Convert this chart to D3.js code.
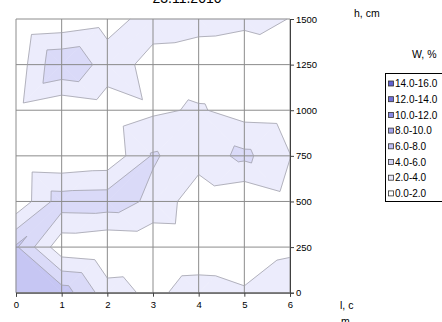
<!DOCTYPE html>
<html><head><meta charset="utf-8">
<script src="https://cdn.jsdelivr.net/npm/d3@7"></script>
<style>
body{margin:0;background:#fff}
svg{display:block}
text{font-family:"Liberation Sans",Arial,sans-serif;fill:#000}
</style>
</head><body>
<svg id="chart" width="442" height="322"></svg>
<script>
// ---------------- data ----------------
const chartTitle = "23.11.2010";
const lValues = [0, 1, 2, 3, 4, 5, 6];                 // l, cm (categories)
const hValues = [0, 250, 500, 750, 1000, 1250, 1500];  // h, cm (series)
// W, % at each l, one array per height
const wAtH0    = [7.5, 7.08, 2.91, 1.49, 3.0, 2.3, 2.41];
const wAtH250  = [6.28, 0.6, 0.07, 0.3, 0.44, 0.3, 1.88];
const wAtH500  = [0.4, 5.1, 5.2, 3.5, 0.7, 0.04, 1.3];
const wAtH750  = [0.3, 0.1, 0.5, 4.2, 2.9, 4.5, 2.05];
const wAtH1000 = [1.26, 0.07, 0.82, 1.67, 2.22, 1.12, 0.98];
const wAtH1250 = [0.7, 5.9, 3.1, 1.26, 0.75, 0.65, 1.13];
const wAtH1500 = [0.0, 0.33, 1.1, 2.9, 2.8, 2.45, 1.97];
const bandEdges = [0, 2, 4, 6, 8, 10, 12, 14, 16];
const bandLabels = ["0.0-2.0", "2.0-4.0", "4.0-6.0", "6.0-8.0", "8.0-10.0", "10.0-12.0", "12.0-14.0", "14.0-16.0"];
const xTickValues = [0, 1, 2, 3, 4, 5, 6];
const yTickValues = [0, 250, 500, 750, 1000, 1250, 1500];

// ---------------- styles ----------------
const bandColors = ["#ffffff", "#ececfc", "#dadaf8", "#c6c6f3", "#b0b0ee", "#9898e8", "#8080e0", "#6a6ad6"];
const legendColors = ["#ffffff", "#e8e8fa", "#d4d4f6", "#bcbcf2", "#a2a2ec", "#8888e4", "#7070da", "#6060d0"];

const wRows = [wAtH0, wAtH250, wAtH500, wAtH750, wAtH1000, wAtH1250, wAtH1500];

const svg = d3.select("#chart");
const x = d3.scaleLinear().domain([0, 6]).range([16, 290]);
const y = d3.scaleLinear().domain([0, 1500]).range([292.7, 19]);

// triangulate each grid cell (diagonal through the higher pair)
const triangles = [];
for (let j = 0; j < hValues.length - 1; j++) {
  for (let i = 0; i < lValues.length - 1; i++) {
    const BL = {l: lValues[i],   h: hValues[j],   v: wRows[j][i]};
    const BR = {l: lValues[i+1], h: hValues[j],   v: wRows[j][i+1]};
    const TL = {l: lValues[i],   h: hValues[j+1], v: wRows[j+1][i]};
    const TR = {l: lValues[i+1], h: hValues[j+1], v: wRows[j+1][i+1]};
    if (BL.v + TR.v >= BR.v + TL.v) {
      triangles.push([BL, BR, TR], [BL, TR, TL]);
    } else {
      triangles.push([BL, BR, TL], [BR, TR, TL]);
    }
  }
}
function lerp(a, b, t) {
  return {l: a.l + (b.l - a.l) * t, h: a.h + (b.h - a.h) * t, v: a.v + (b.v - a.v) * t};
}
function clip(poly, f) {
  const out = [];
  for (let k = 0; k < poly.length; k++) {
    const a = poly[k], b = poly[(k + 1) % poly.length];
    const fa = f(a), fb = f(b);
    if (fa >= 0) out.push(a);
    if ((fa >= 0) !== (fb >= 0)) out.push(lerp(a, b, fa / (fa - fb)));
  }
  return out;
}
const line = d3.line().x(p => x(p.l)).y(p => y(p.h));

// filled bands
const gBands = svg.append("g");
for (let b = 1; b < bandEdges.length - 1; b++) {
  const lo = bandEdges[b], hi = bandEdges[b + 1];
  triangles.forEach(tri => {
    let poly = clip(tri, p => p.v - lo);
    if (poly.length < 3) return;
    poly = clip(poly, p => hi - p.v);
    if (poly.length < 3) return;
    gBands.append("path")
      .attr("d", line(poly) + "Z")
      .attr("fill", bandColors[b])
      .attr("stroke", bandColors[b])
      .attr("stroke-width", 0.6);
  });
}

// gridlines
const gGrid = svg.append("g");
xTickValues.forEach(t => {
  gGrid.append("line").attr("x1", x(t)).attr("x2", x(t)).attr("y1", y(0)).attr("y2", y(1500))
    .attr("stroke", "#8c8c8c").attr("stroke-width", 1);
});
yTickValues.forEach(t => {
  gGrid.append("line").attr("x1", x(0)).attr("x2", x(6)).attr("y1", y(t)).attr("y2", y(t))
    .attr("stroke", "#8c8c8c").attr("stroke-width", 1);
});

// contour lines
const gLines = svg.append("g");
for (let b = 1; b < bandEdges.length - 1; b++) {
  const L = bandEdges[b];
  triangles.forEach(tri => {
    const pts = [];
    for (let k = 0; k < 3; k++) {
      const a = tri[k], c = tri[(k + 1) % 3];
      const fa = a.v - L, fc = c.v - L;
      if ((fa >= 0) !== (fc >= 0)) pts.push(lerp(a, c, fa / (fa - fc)));
    }
    if (pts.length === 2) {
      gLines.append("path").attr("d", line(pts))
        .attr("fill", "none").attr("stroke", "#a2a2ac").attr("stroke-width", 0.8);
    }
  });
}

// axes
const xAxis = d3.axisBottom(x).tickValues(xTickValues).tickSize(4).tickPadding(5).tickFormat(d3.format("d"));
const gx = svg.append("g").attr("transform", `translate(0,${y(0)})`).call(xAxis);
gx.select(".domain").attr("stroke", "#404040");
gx.selectAll(".tick line").attr("stroke", "#404040");
gx.selectAll("text").style("font-size", "9.5px").attr("fill", "#000");

const yAxis = d3.axisRight(y).tickValues(yTickValues).tickSize(4).tickPadding(2).tickFormat(d3.format("d"));
const gy = svg.append("g").attr("transform", `translate(${x(6)},0)`).call(yAxis);
gy.select(".domain").attr("stroke", "#404040");
gy.selectAll(".tick line").attr("stroke", "#404040");
gy.selectAll("text").style("font-size", "9.5px").attr("fill", "#000");

// titles
svg.append("text").attr("x", 187).attr("y", 3).attr("text-anchor", "middle")
  .style("font-size", "14px").text(chartTitle);
svg.append("text").attr("x", 354).attr("y", 17).style("font-size", "10.5px").text("h, cm");
svg.append("text").attr("x", 412).attr("y", 58).style("font-size", "10.5px").text("W, %");
svg.append("text").attr("x", 340).attr("y", 309).style("font-size", "10.5px").text("l, c");
svg.append("text").attr("x", 341).attr("y", 325).style("font-size", "10.5px").text("m");

// legend
const gLeg = svg.append("g");
gLeg.append("rect").attr("x", 385.5).attr("y", 73.5).attr("width", 70).attr("height", 128)
  .attr("fill", "#fff").attr("stroke", "#000").attr("stroke-width", 1);
const legendOrder = d3.range(bandLabels.length).reverse();
legendOrder.forEach((b, k) => {
  const cy = 83.5 + k * 15.7;
  gLeg.append("rect").attr("x", 388.5).attr("y", cy - 2.5).attr("width", 5).attr("height", 5)
    .attr("fill", legendColors[b]).attr("stroke", "#333").attr("stroke-width", 0.8);
  gLeg.append("text").attr("x", 395).attr("y", cy + 3.6).style("font-size", "10px").text(bandLabels[b]);
});
</script>
</body></html>
